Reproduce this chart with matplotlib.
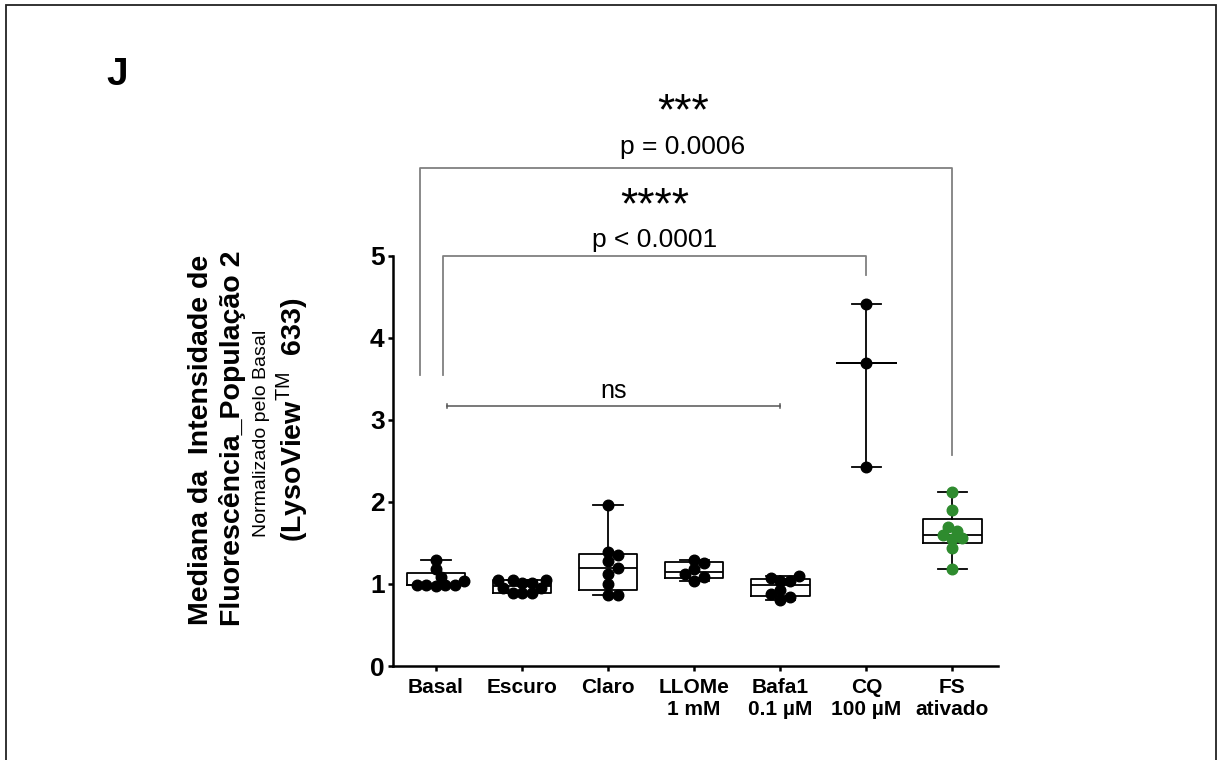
import numpy as np
import matplotlib
matplotlib.use('Agg')
import matplotlib.pyplot as plt
from matplotlib.patches import Rectangle

plt.rcParams['font.family'] = ['Liberation Sans', 'DejaVu Sans']
plt.rcParams['mathtext.fontset'] = 'custom'
plt.rcParams['mathtext.rm'] = 'Liberation Sans'

# ---------------- data ----------------
categories = ['Basal', 'Escuro', 'Claro', 'LLOMe\n1 mM', 'Bafa1\n0.1 µM', 'CQ\n100 µM', 'FS\nativado']
basal = [1.29, 1.18, 1.08, 0.99, 0.99, 0.98, 0.99, 0.99, 1.03]
escuro = [1.05, 1.05, 1.01, 0.95, 0.89, 0.89, 0.89, 0.95, 1.01, 1.05]
claro = [1.96, 1.35, 1.39, 1.28, 1.20, 1.12, 1.00, 0.86, 0.86]
llome = [1.29, 1.26, 1.18, 1.12, 1.09, 1.04]
bafa1 = [1.10, 1.04, 1.04, 1.07, 0.93, 0.88, 0.81, 0.84]
cq = [4.41, 3.69, 2.43]
fs = [2.12, 1.90, 1.65, 1.60, 1.69, 1.55, 1.56, 1.44, 1.18]
groups = [basal, escuro, claro, llome, bafa1, cq, fs]
point_colors = ['black', 'black', 'black', 'black', 'black', 'black', '#2e8b2e']
yticks = [0, 1, 2, 3, 4, 5]

ylabel_line1 = 'Mediana da  Intensidade de'
ylabel_line2 = 'Fluorescência_População 2'
ylabel_sub = 'Normalizado pelo Basal'
ylabel_line3 = r'(LysoView$^{\mathrm{TM}}$  633)'
panel_letter = 'J'

# ---------------- figure ----------------
W, H = 1218, 760
fig = plt.figure(figsize=(W / 100, H / 100), dpi=100)
ax_left, ax_right, ax_top, ax_bottom = 392.5, 998.0, 255.7, 666.0
ax = fig.add_axes([ax_left / W, 1 - ax_bottom / H, (ax_right - ax_left) / W, (ax_bottom - ax_top) / H])
ax.set_xlim(-0.505, 6.53)
ax.set_ylim(0, 5)


def prism_stats(v):
    a = np.sort(np.asarray(v, dtype=float))
    q1, med, q3 = np.percentile(a, [25, 50, 75], method='weibull')
    if len(a) < 4:  # too few points: no box, just range and median
        q1 = q3 = med
    return dict(med=med, q1=q1, q3=q3, whislo=a.min(), whishi=a.max(), fliers=[])


stats = [prism_stats(g) for g in groups]
lw_box = 1.3
ax.bxp(stats, positions=range(len(groups)), widths=0.68, capwidths=0.34,
       showfliers=False, manage_ticks=False,
       boxprops=dict(color='black', lw=lw_box),
       whiskerprops=dict(color='black', lw=lw_box),
       capprops=dict(color='black', lw=lw_box),
       medianprops=dict(color='black', lw=lw_box))

# beeswarm placement of points
px_per_x = (ax_right - ax_left) / (6.53 + 0.505)
px_per_y = (ax_bottom - ax_top) / 5.0
diam_px = 9.5
dx = diam_px / px_per_x
dy = diam_px / px_per_y


def swarm(vals):
    vals = np.asarray(vals, dtype=float)
    order = np.argsort(vals)
    placed = []
    xs = np.zeros(len(vals))
    step = dx * 0.5
    cands = [0.0]
    for k in range(1, 20):
        cands += [k * step, -k * step]
    for i in order:
        y = vals[i]
        for c in cands:
            ok = all(((c - px) / dx) ** 2 + ((y - py) / dy) ** 2 >= 0.75 for px, py in placed)
            if ok:
                break
        placed.append((c, y))
        xs[i] = c
    return xs


for i, g in enumerate(groups):
    offs = swarm(g)
    ax.plot(i + offs, g, 'o', color=point_colors[i], ms=7.6, mec=point_colors[i], zorder=3, clip_on=False)

# axes styling
for s in ['top', 'right']:
    ax.spines[s].set_visible(False)
for s in ['left', 'bottom']:
    ax.spines[s].set_linewidth(1.8)
ax.set_yticks(yticks)
ax.set_yticklabels([str(t) for t in yticks], fontsize=19, fontweight='bold')
ax.set_xticks(range(len(categories)))
ax.set_xticklabels(categories, fontsize=15, fontweight='bold', linespacing=1.2)
ax.tick_params(axis='y', length=3.6, width=1.8, pad=2)
ax.tick_params(axis='x', length=3.6, width=1.8, pad=5)

# significance annotations
gray = '#808080'
ax.plot([-0.19, -0.19, 6.0, 6.0], [3.545, 6.066, 6.066, 2.57], color=gray, lw=1.3, clip_on=False)
ax.plot([0.08, 0.08, 5.0, 5.0], [3.545, 4.994, 4.994, 4.76], color=gray, lw=1.3, clip_on=False)
ax.plot([0.13, 4.0], [3.167, 3.167], color='#555555', lw=1.1, clip_on=False)
for xe in (0.13, 4.0):
    ax.plot([xe, xe], [3.147, 3.187], color='#555555', lw=1.1, clip_on=False)
p1 = ax.text(2.87, 6.33, 'p = 0.0006', ha='center', va='center', fontsize=19, clip_on=False)
p2 = ax.text(2.54, 5.19, 'p < 0.0001', ha='center', va='center', fontsize=19, clip_on=False)
s1 = ax.text(2.87, 6.66, '***', ha='center', va='bottom', fontsize=32, clip_on=False)
s2 = ax.text(2.54, 5.55, '****', ha='center', va='bottom', fontsize=32, clip_on=False)
ax.text(2.06, 3.35, 'ns', ha='center', va='center', fontsize=18, clip_on=False)

# place each star string right above its p-value text
fig.canvas.draw()
renderer = fig.canvas.get_renderer()
for star, ptxt in ((s1, p1), (s2, p2)):
    top_px = ptxt.get_window_extent(renderer).y1
    x_d, _ = star.get_position()
    y_d = ax.transData.inverted().transform((0, top_px + 1))[1]
    star.set_position((x_d, y_d))

# y label (multi-line, rotated)
fig.text(201 / W, 1 - 440 / H, ylabel_line1, rotation=90, ha='center', va='center', fontsize=20.5, fontweight='bold')
fig.text(233 / W, 1 - 438 / H, ylabel_line2, rotation=90, ha='center', va='center', fontsize=20.5, fontweight='bold')
fig.text(262 / W, 1 - 433 / H, ylabel_sub, rotation=90, ha='center', va='center', fontsize=14)
fig.text(292 / W, 1 - 420 / H, ylabel_line3, rotation=90, ha='center', va='center', fontsize=20.5, fontweight='bold')

# panel letter
fig.text(106 / W, 1 - 85 / H, panel_letter, ha='left', va='baseline', fontsize=28, fontweight='bold')

# outer frame
fig.patches.append(Rectangle((6 / W, -0.02), (1216 - 6) / W, 1.02 - 5 / H, transform=fig.transFigure,
                             fill=False, edgecolor='#222222', lw=1.3))

fig.savefig('out.png', dpi=100)
